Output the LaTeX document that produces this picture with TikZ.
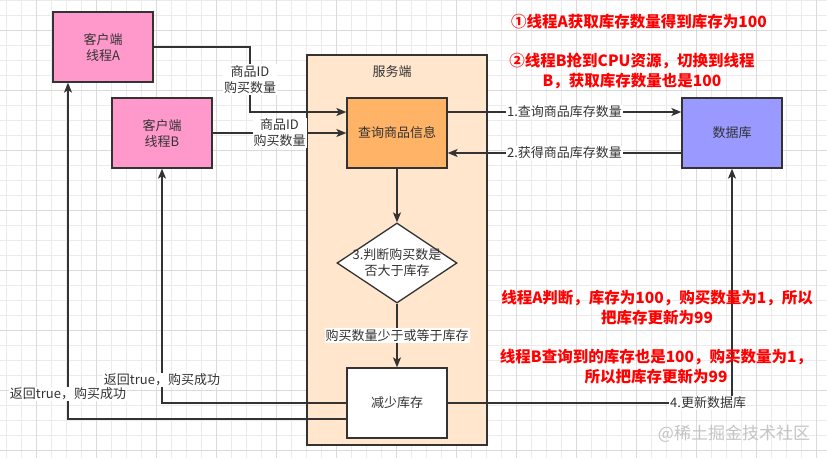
\documentclass[tikz,border=0pt]{standalone}
\usepackage{fontspec}
\setmainfont{Noto Sans CJK SC}
\usetikzlibrary{positioning,shapes.geometric,arrows.meta}

\definecolor{linegray}{HTML}{333333}
\definecolor{textgray}{HTML}{333333}
\definecolor{clientpink}{HTML}{FF99CC}
\definecolor{queryorange}{HTML}{FFB366}
\definecolor{dbblue}{HTML}{9999FF}
\definecolor{serverfill}{HTML}{FFE6CC}
\definecolor{notered}{HTML}{FF0000}
\definecolor{gridminor}{HTML}{EBEBEB}
\definecolor{gridmajor}{HTML}{DADADA}
\definecolor{markgray}{HTML}{C4C4C4}

\tikzset{
  box/.style={draw=linegray,line width=1.3pt,minimum width=100pt,
    minimum height=70pt,align=center,text=textgray,
    font=\fontsize{13}{16}\selectfont},
  decision/.style={diamond,draw=linegray,line width=1.3pt,fill=white,
    minimum width=120pt,minimum height=80pt,inner sep=0pt},
  boxtext/.style={align=center,text=textgray,font=\fontsize{13}{16}\selectfont},
  lbl/.style={fill=white,inner sep=1pt,align=center,text=textgray,
    font=\fontsize{13}{16}\selectfont},
  flow/.style={draw=linegray,line width=1.4pt,
    -{Stealth[length=10pt,width=8pt,inset=2.5pt]}},
  note/.style={text=notered,align=center,font=\fontsize{15.5}{20}\selectfont\bfseries}
}

\begin{document}
\begin{tikzpicture}[x=1pt,y=-1pt]
  \useasboundingbox (0,0) rectangle (827,458);

  % background grid
  \fill[white] (0,0) rectangle (827,458);
  \foreach \gx in {6.7,21.7,...,827}
    \draw[gridminor,line width=0.6pt] (\gx,0) -- (\gx,458);
  \foreach \gy in {0,15,...,458}
    \draw[gridminor,line width=0.6pt] (0,\gy) -- (827,\gy);
  \foreach \gx in {36.7,96.7,...,827}
    \draw[gridmajor,line width=0.7pt] (\gx,0) -- (\gx,458);
  \foreach \gy in {30,90,...,458}
    \draw[gridmajor,line width=0.7pt] (0,\gy) -- (827,\gy);

  % server side
  \node[box,fill=serverfill,minimum width=180pt,minimum height=390pt]
    (server) at (397,250) {};
  \node[boxtext] (serverlbl) at (392,72) {服务端};

  % clients
  \node[box,fill=clientpink] (clientA) at (103,47) {客户端\\线程A};
  \node[box,fill=clientpink] (clientB) at (162,133) {客户端\\线程B};

  % flow inside the server
  \node[box,fill=queryorange] (query) at (397,133) {查询商品信息};
  \node[decision] (judge) at (397,263) {};
  \node[boxtext] (judgetext) at (judge) {3.判断购买数是\\否大于库存};
  \node[box,fill=white] (reduce) at (397,403) {减少库存};

  % database
  \node[box,fill=dbblue] (db) at (732,133) {数据库};

  % requests
  \coordinate (bendA) at (250,112);
  \draw[flow] (clientA.east) -| node[lbl,pos=0.75] {商品ID\\购买数量}
    (bendA) -- ([yshift=21pt]query.west);
  \draw[flow] (clientB.east) -- node[lbl] {商品ID\\购买数量} (query.west);
  \draw[flow] ([yshift=21pt]query.east) -- node[lbl] {1.查询商品库存数量}
    ([yshift=21pt]db.west);
  \draw[flow] ([yshift=-20pt]db.west) -- node[lbl] {2.获得商品库存数量}
    ([yshift=-20pt]query.east);
  \draw[flow] (query.south) -- (judge.north);
  \draw[flow] (judge.south) -- node[lbl] {购买数量少于或等于库存} (reduce.north);

  % answers
  \draw[flow] (reduce.west) -| node[lbl,pos=0.549] {返回true，购买成功}
    (clientB.south);
  \draw[flow] ([yshift=-16pt]reduce.west) -| node[lbl,pos=0.537] {返回true，购买成功}
    ([xshift=-35pt]clientA.south);
  \draw[flow] (reduce.east) -| node[lbl,pos=0.458] {4.更新数据库} (db.south);

  % notes
  \node[note] (noteA) at (639,22) {①线程A获取库存数量得到库存为100};
  \node[note] (noteB) at (632,71) {②线程B抢到CPU资源，切换到线程\\B，获取库存数量也是100};
  \node[note] (noteC) at (657,308) {线程A判断，库存为100，购买数量为1，所以\\把库存更新为99};
  \node[note] (noteD) at (656,367) {线程B查询到的库存也是100，购买数量为1，\\所以把库存更新为99};

  % watermark
  \node[text=markgray,font=\fontsize{17}{20}\selectfont] (mark) at (734,434)
    {@稀土掘金技术社区};
\end{tikzpicture}
\end{document}
